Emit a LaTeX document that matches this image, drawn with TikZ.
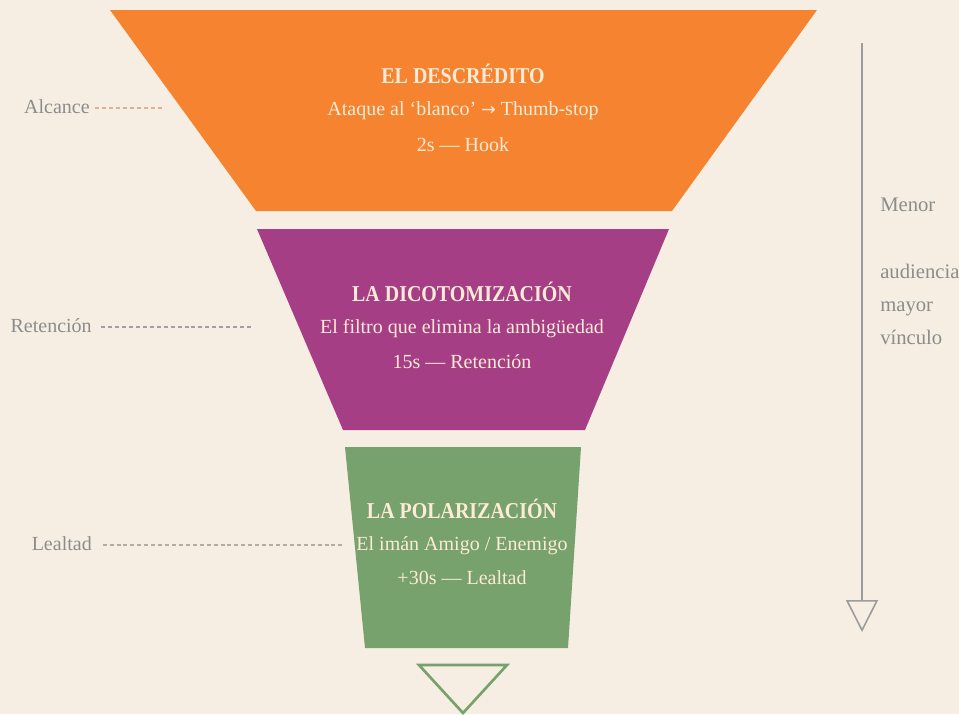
\documentclass[tikz,border=0pt]{standalone}
\usepackage{fontspec}
\setmainfont{Liberation Serif}
\newfontfamily\titlefont{Liberation Serif}[FakeStretch=0.88]
\newfontfamily\symfont{DejaVu Sans}
\usetikzlibrary{arrows.meta,positioning}
\definecolor{bgcream}{HTML}{F6EEE2}
\definecolor{funnelorange}{HTML}{F5832F}
\definecolor{funnelmagenta}{HTML}{A53E84}
\definecolor{funnelgreen}{HTML}{77A16D}
\definecolor{stagetext}{HTML}{FCEBD6}
\definecolor{labelgrey}{HTML}{8C8C8C}
\definecolor{axisgrey}{HTML}{9C9C9C}
\definecolor{leadtan}{HTML}{D8B394}
\definecolor{leadmauve}{HTML}{A99AA3}
\definecolor{leadgrey}{HTML}{B0ADA6}
\tikzset{
  stagetitle/.style={text=stagetext,font=\titlefont\bfseries\fontsize{17}{19}\selectfont},
  stageline/.style={text=stagetext,font=\fontsize{15}{17}\selectfont},
  level/.style={text=labelgrey,font=\fontsize{15}{17}\selectfont,anchor=east,inner sep=0pt},
  sidenote/.style={text=labelgrey,font=\fontsize{15.5}{17}\selectfont,anchor=west,inner sep=0pt},
  leader/.style={dash pattern=on 3pt off 2.2pt,line width=0.8pt},
  axis/.style={draw=axisgrey,line width=1.2pt,-{Triangle[open,length=24pt,width=24pt]}}
}

\begin{document}
\begin{tikzpicture}[x=0.75pt,y=-0.75pt]
  \fill[bgcream] (0,0) rectangle (959,714);
  \useasboundingbox (0,0) rectangle (959,714);
  % funnel stages
  \fill[funnelorange] (110,10) -- (817,10) -- (672,211) -- (256,211) -- cycle;
  \fill[funnelmagenta] (257,229) -- (669,229) -- (585,430) -- (343,430) -- cycle;
  \fill[funnelgreen] (345,447) -- (581,447) -- (568,648) -- (365,648) -- cycle;
  \draw[funnelgreen,line width=2pt,line join=miter] (419,665) -- (507,665) -- (463,713) -- cycle;

  \node[stagetitle] (descredito) at (463,74) {EL DESCRÉDITO};
  \node[stageline] (descreditoA) at (463,111) {Ataque al ‘blanco’ {\symfont\fontsize{13}{15}\selectfont →} Thumb-stop};
  \node[stageline] (descreditoB) at (463,145) {2s — Hook};

  \node[stagetitle] (dicotomia) at (462,292) {LA DICOTOMIZACIÓN};
  \node[stageline] (dicotomiaA) at (462,329) {El filtro que elimina la ambigüedad};
  \node[stageline] (dicotomiaB) at (462,362) {15s — Retención};

  \node[stagetitle] (polariza) at (462,509) {LA POLARIZACIÓN};
  \node[stageline] (polarizaA) at (462,546) {El imán Amigo / Enemigo};
  \node[stageline] (polarizaB) at (462,578) {+30s — Lealtad};

  % level labels and leaders
  \node[level] (alcance) at (90,107) {Alcance};
  \node[level] (retencion) at (92,326) {Retención};
  \node[level] (lealtad) at (92,544) {Lealtad};
  \coordinate (alcanceEnd) at (163,108);
  \coordinate (retencionEnd) at (252,327);
  \coordinate (lealtadEnd) at (342,545);
  \draw[leader,leadtan] ([xshift=4pt]alcance.east |- alcanceEnd) -- (alcanceEnd);
  \draw[leader,leadmauve] ([xshift=7pt]retencion.east |- retencionEnd) -- (retencionEnd);
  \draw[leader,leadgrey] ([xshift=8pt]lealtad.east |- lealtadEnd) -- (lealtadEnd);

  % side axis
  \coordinate (axisTop) at (862,43);
  \coordinate (axisEnd) at (862,632);
  \draw[axis] (axisTop) -- (axisEnd);
  \node[sidenote,anchor=base west] (menor) at (880,211) {Menor};
  \node[sidenote,anchor=base west] (audiencia) at (880,278) {audiencia};
  \node[sidenote,anchor=base west] (mayor) at (880,311) {mayor};
  \node[sidenote,anchor=base west] (vinculo) at (880,344) {vínculo};
\end{tikzpicture}
\end{document}
